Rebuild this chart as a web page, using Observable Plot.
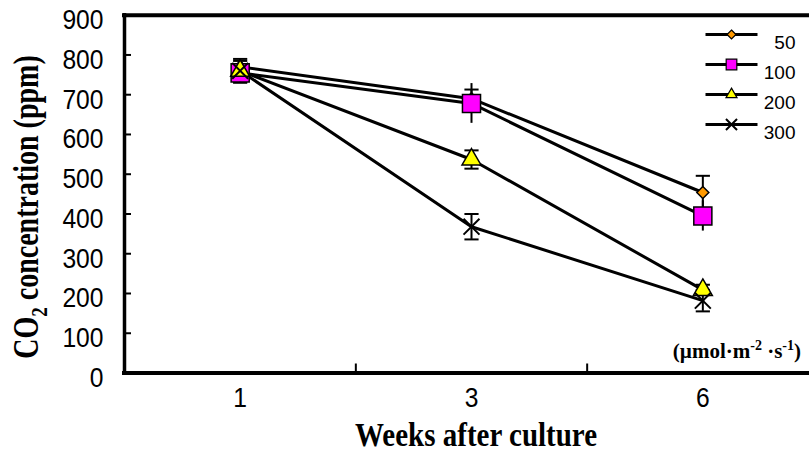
<!DOCTYPE html>
<html>
<head>
<meta charset="utf-8">
<script src="https://cdn.jsdelivr.net/npm/d3@7"></script>
<script src="https://cdn.jsdelivr.net/npm/@observablehq/plot@0.6"></script>
<style>
  html, body { margin: 0; padding: 0; background: #fff; }
  #chart svg { display: block; }
</style>
</head>
<body>
<div id="chart"></div>
<script>
// ---- data ----
const weeks = ["1", "3", "6"];
const seriesNames = ["50", "100", "200", "300"];
const v50  = [770, 690, 454];
const v100 = [755, 678, 395];
const v200 = [760, 537, 209];
const v300 = [760, 368, 182];
const e50  = [15, 23, 42];
const e100 = [20, 50, 38];
const e200 = [10, 23, 13];
const e300 = [30, 32, 27];
const yTicks = [0, 100, 200, 300, 400, 500, 600, 700, 800, 900];

// ---- styles ----
const numFont = "'Liberation Sans', Arial, sans-serif";
const serif = "'Liberation Serif', 'Times New Roman', serif";
const styles = {
  "50":  {symbol: "diamond2", fill: "#FF9900", r: 5.4, lr: 4.05, caps: true},
  "100": {symbol: "square",   fill: "#FF00FF", r: 10.2, lr: 6.0, caps: false},
  "200": {symbol: "triangle", fill: "#FFFF00", r: 7.05, lr: 4.1, caps: true},
  "300": {symbol: "times",    fill: "none",    r: 7.3, lr: 5.1, caps: true}
};

const valuesBySeries = {"50": v50, "100": v100, "200": v200, "300": v300};
const errBySeries = {"50": e50, "100": e100, "200": e200, "300": e300};
const rows = seriesNames.flatMap(s => weeks.map((w, i) => ({
  series: s, week: w, idx: i + 1, value: valuesBySeries[s][i], err: errBySeries[s][i]
})));
const capRows = rows.filter(d => styles[d.series].caps)
  .flatMap(d => [{...d, y: d.value + d.err}, {...d, y: d.value - d.err}]);

const capSymbol = {draw(ctx, size) { const w = Math.sqrt(size); ctx.moveTo(-w, 0); ctx.lineTo(w, 0); }};
const lineSymbol = capSymbol;

const W = 809, H = 453;
const mL = 124, mT = 14.7, mB = 80.5;
const xRange = [mL, 818];
const frameW = W - mL, frameH = H - mT - mB;
const boundaries = weeks.slice(1).map((_, i) => i + 1.5);

const legendMarks = seriesNames.flatMap((s, i) => {
  const dy = 19.3 + 30 * i;
  const st = styles[s];
  return [
    Plot.dot([s], {frameAnchor: "top-right", dx: -78, dy, symbol: lineSymbol, r: 14.67,
      fill: "none", stroke: "black", strokeWidth: 3}),
    Plot.dot([s], {frameAnchor: "top-right", dx: -78, dy, symbol: st.symbol, r: st.lr,
      fill: st.fill, stroke: "black", strokeWidth: st.symbol === "times" ? 2 : 1.2}),
    Plot.text([s], {frameAnchor: "top-right", dx: -14, dy: dy + 1, text: d => d, textAnchor: "end",
      fontSize: 19, fontFamily: numFont, fill: "black"})
  ];
});

const chart = Plot.plot({
  width: W, height: H,
  marginLeft: mL, marginRight: 0, marginTop: mT, marginBottom: mB,
  style: {background: "white", overflow: "hidden"},
  x: {domain: [0.5, 3.5], range: xRange, axis: null},
  y: {domain: [0, 900], axis: null},
  marks: [
    // inner ticks
    Plot.tickY(yTicks.slice(1, -1), {y: d => d, insetRight: frameW - 7, stroke: "black", strokeWidth: 2}),
    Plot.tickX(boundaries, {x: d => d, insetTop: frameH - 9, stroke: "black", strokeWidth: 2}),
    // frame (left, top, bottom)
    Plot.ruleY([0, 900], {stroke: "black", strokeWidth: 4, strokeLinecap: "square"}),
    Plot.ruleX([0.5], {stroke: "black", strokeWidth: 3.5, strokeLinecap: "square"}),
    // tick labels
    Plot.text(yTicks, {x: 0.5, y: d => d, text: d => String(d), textAnchor: "end", dx: -21, dy: 5,
      fontSize: 28, fontFamily: numFont, fill: "black", ariaDescription: "numlabel"}),
    Plot.text(weeks, {x: (d, i) => i + 1, y: 0, text: d => d, dy: 25,
      fontSize: 28, fontFamily: numFont, fill: "black", ariaDescription: "numlabel"}),
    // series lines
    Plot.line(rows, {x: "idx", y: "value", z: "series", stroke: "black", strokeWidth: 3}),
    // error bars
    Plot.ruleX(rows, {x: "idx", y1: d => d.value - d.err, y2: d => d.value + d.err, stroke: "black", strokeWidth: 2}),
    Plot.dot(capRows, {x: "idx", y: "y", symbol: capSymbol, r: 4, fill: "none", stroke: "black", strokeWidth: 2}),
    // markers
    ...seriesNames.map(s => Plot.dot(rows.filter(d => d.series === s), {
      x: "idx", y: "value", symbol: styles[s].symbol, r: styles[s].r,
      fill: styles[s].fill, stroke: "black", strokeWidth: s === "300" ? 2 : 1.5
    })),
    ...legendMarks
  ]
});

document.getElementById("chart").appendChild(chart);

// condense the numeric tick labels horizontally (narrow face look)
d3.select(chart).selectAll('g[aria-description="numlabel"] text').each(function() {
  const b = this.getBBox();
  const anchor = window.getComputedStyle(this).textAnchor;
  const ax = anchor === "end" ? b.x + b.width : anchor === "middle" ? b.x + b.width / 2 : b.x;
  const prev = this.getAttribute("transform") || "";
  this.setAttribute("transform", `${prev} translate(${ax},0) scale(0.88,1) translate(${-ax},0)`);
});

// titles with sub/superscripts
const svg = d3.select(chart);
const yt = svg.append("text")
  .attr("transform", "translate(38,207) rotate(-90) scale(1,1.25)")
  .attr("text-anchor", "middle")
  .attr("font-family", serif).attr("font-weight", "bold").attr("font-size", 28).attr("fill", "black");
yt.append("tspan").text("CO");
yt.append("tspan").attr("font-size", 19).attr("dy", 7).text("2");
yt.append("tspan").attr("dy", -7).text(" concentration (ppm)");

svg.append("text")
  .attr("transform", "translate(476,446) scale(1,1.15)")
  .attr("text-anchor", "middle")
  .attr("font-family", serif).attr("font-weight", "bold").attr("font-size", 29).attr("fill", "black")
  .text("Weeks after culture");

const ut = svg.append("text")
  .attr("x", 801).attr("y", 358)
  .attr("text-anchor", "end")
  .attr("font-family", serif).attr("font-weight", "bold").attr("font-size", 21).attr("fill", "black");
ut.append("tspan").text("(\u00B5mol\u00B7m");
ut.append("tspan").attr("font-size", 14).attr("dy", -8).text("-2");
ut.append("tspan").attr("dy", 8).text(" \u00B7s");
ut.append("tspan").attr("font-size", 14).attr("dy", -8).text("-1");
ut.append("tspan").attr("dy", 8).text(")");
</script>
</body>
</html>
